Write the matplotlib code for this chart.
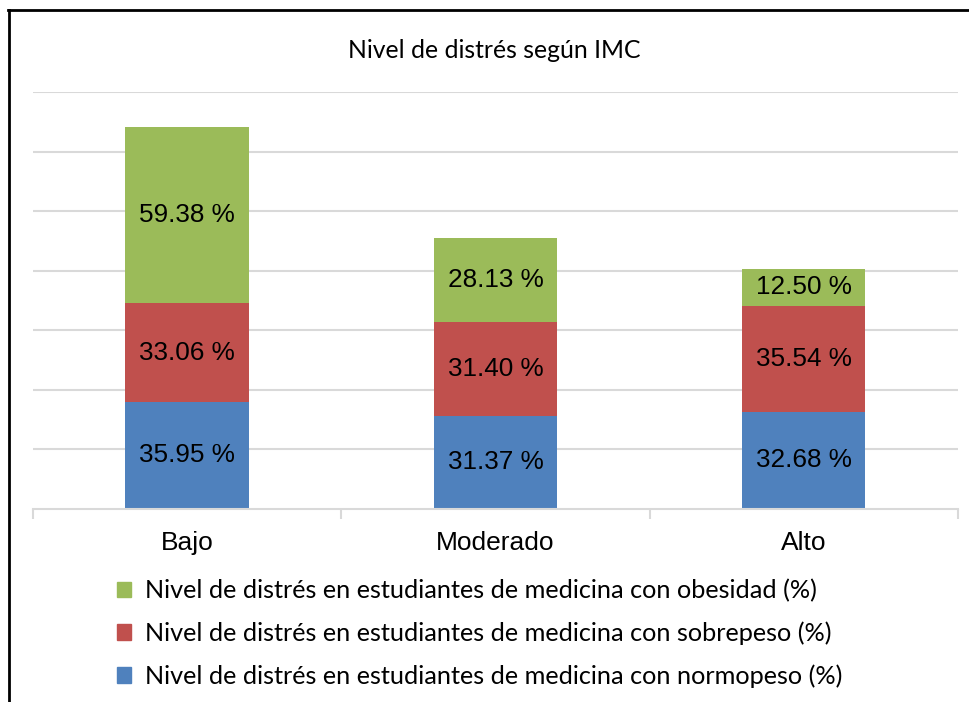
import numpy as np
import matplotlib.pyplot as plt
from matplotlib.patches import Patch
from matplotlib.lines import Line2D

categories = ['Bajo', 'Moderado', 'Alto']
normopeso = [35.95, 31.37, 32.68]
sobrepeso = [33.06, 31.40, 35.54]
obesidad = [59.38, 28.13, 12.50]
series_names = [
    'Nivel de distrés en estudiantes de medicina con obesidad (%)',
    'Nivel de distrés en estudiantes de medicina con sobrepeso (%)',
    'Nivel de distrés en estudiantes de medicina con normopeso (%)',
]
title = 'Nivel de distrés según IMC'

c_blue = '#4f81bd'
c_red = '#c0504d'
c_green = '#9bbb59'

fig = plt.figure(figsize=(9.69, 7.02), dpi=100)
ax = fig.add_axes([33 / 969, (702 - 509) / 702, (958 - 33) / 969, 417 / 702])

x = np.arange(len(categories))
w = 0.4
b1 = ax.bar(x, normopeso, w, color=c_blue, zorder=2)
b2 = ax.bar(x, sobrepeso, w, bottom=normopeso, color=c_red, zorder=2)
bottom3 = np.array(normopeso) + np.array(sobrepeso)
b3 = ax.bar(x, obesidad, w, bottom=bottom3, color=c_green, zorder=2)

for bars in (b1, b2, b3):
    ax.bar_label(bars, labels=['%.2f %%' % b.get_height() for b in bars],
                 label_type='center', fontsize=18.8, family='Liberation Sans', color='black')

ax.set_xlim(-0.5, 2.5)
ax.set_ylim(0, 140)
ax.set_yticks(np.arange(20, 141, 20))
ax.yaxis.grid(True, color='#d9d9d9', linewidth=1.5, zorder=0)
ax.tick_params(axis='y', left=False, labelleft=False)
for s in ('top', 'right', 'left'):
    ax.spines[s].set_visible(False)
ax.spines['bottom'].set_color('#d9d9d9')
ax.spines['bottom'].set_linewidth(1.5)

ax.set_xticks([-0.5, 0.5, 1.5, 2.5])
ax.set_xticklabels([])
ax.tick_params(axis='x', length=7, width=1.5, color='#d9d9d9')
ax.set_xticks(x, minor=True)
ax.set_xticklabels(categories, minor=True, fontsize=19, family='Liberation Sans')
ax.tick_params(axis='x', which='minor', length=0, pad=16)

fig.text(494 / 969, (702 - 50) / 702, title, ha='center', va='center', fontsize=17.8, family='Lato')

handles = [Patch(color=c_green), Patch(color=c_red), Patch(color=c_blue)]
fig.legend(handles, series_names, loc='upper left', bbox_to_anchor=(117 / 969, (702 - 579) / 702),
           frameon=False, prop={'family': 'Lato', 'size': 18.2}, handlelength=0.56, handleheight=0.56,
           handletextpad=0.56, labelspacing=0.76, borderpad=0, borderaxespad=0)

fig.add_artist(Line2D([8 / 969, 1], [(702 - 10) / 702] * 2, color='black', lw=2, transform=fig.transFigure))
fig.add_artist(Line2D([9 / 969] * 2, [0, (702 - 10) / 702], color='black', lw=2, transform=fig.transFigure))

fig.savefig('out.png', dpi=100)
